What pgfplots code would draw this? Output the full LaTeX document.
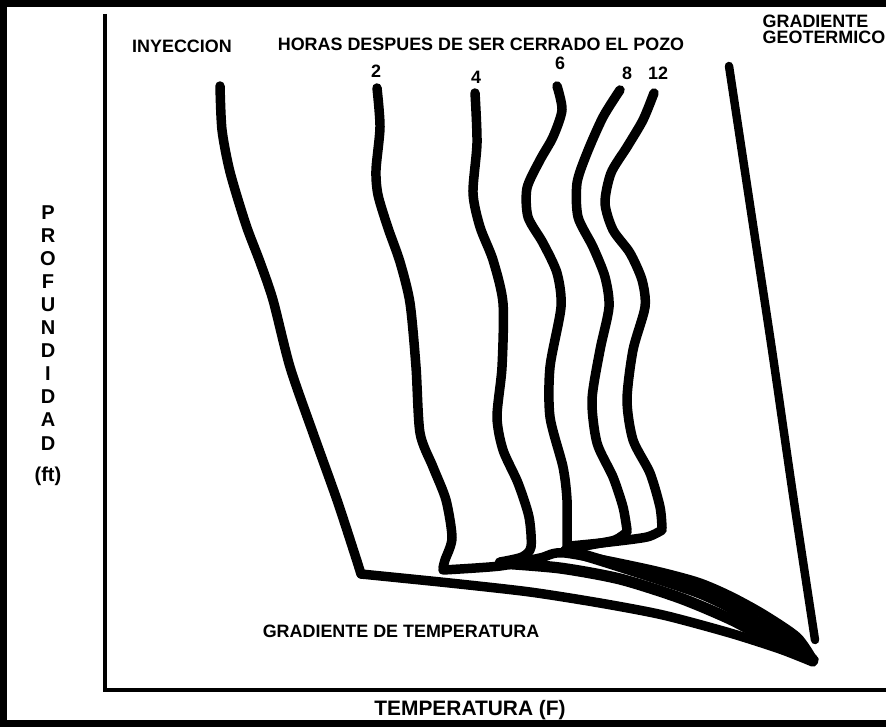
\documentclass[border=0pt]{standalone}
\usepackage{fontspec}
\setmainfont{Liberation Sans}
\usepackage{pgfplots}
\pgfplotsset{compat=1.18}

% 1 px of the scan = 0.1 mm
\tikzset{
  curve/.style={black, line width=2.7pt, smooth, tension=0.45, line cap=round, line join=round},
  lbl/.style={font=\fontsize{5.1}{5.1}\selectfont\bfseries, inner sep=0pt},
}

\begin{document}
\begin{tikzpicture}
\begin{axis}[
    width=8.86cm, height=7.27cm, scale only axis,
    xmin=0, xmax=886, ymin=0, ymax=727,
    y dir=reverse,
    hide axis,
    clip=true,
]
% frame of the scan
\addplot[black, line width=2pt] coordinates {(886,3.5) (3.5,3.5) (3.5,723.5) (886,723.5)};
% axes
\addplot[black, line width=0.9pt] coordinates {(105,14) (105,690) (886,690)};

% inyeccion
\addplot[curve] coordinates {
    (220,86) (222,130) (230,172) (246,225) (260,262) (273,300) (290,367)
    (313,433) (337,500) (355,555) (361,574)
};
\addplot[curve] coordinates {
    (361,574) (450,583) (530,592) (600,603) (663,615) (730,633) (780,649) (813,662)
};

% 2 horas
\addplot[curve] coordinates {
    (377,88) (380,127) (376,170) (378,195) (388,228) (400,262) (410,303)
    (416,367) (420,433) (433,467) (446,500) (452,538) (445,560) (443,568)
};
\addplot[curve] coordinates {
    (443,570) (500,566) (540,558) (565,553) (647,569) (697,582) (730,596)
    (763,614) (797,637) (813,660)
};

% 4 horas
\addplot[curve] coordinates {
    (475,93) (477,143) (473,193) (480,227) (493,260) (503,303) (502,367)
    (497,417) (503,450) (518,483) (529,517) (531,547) (522,557) (500,562)
};
\addplot[curve, line width=3.2pt] coordinates {
    (500,563) (560,568) (620,579) (680,598) (730,619) (770,640) (813,660)
};

% 6 horas
\addplot[curve] coordinates {
    (557,86) (562,110) (553,137) (540,160) (527,188) (528,217) (543,243)
    (557,273) (561,307) (550,367) (550,417) (563,467) (567,500) (567,540) (567,550)
};
\addplot[curve, line width=3.2pt] coordinates {
    (567,550) (600,560) (650,576) (700,593) (740,612) (780,636) (813,660)
};

% 8 horas
\addplot[curve] coordinates {
    (620,90) (603,117) (587,153) (577,183) (578,217) (593,247) (605,277)
    (609,307) (600,350) (592,400) (597,443) (613,477) (623,507) (627,530)
};
\addplot[curve] coordinates {
    (627,532) (615,540) (590,545) (565,550)
};

% 12 horas
\addplot[curve] coordinates {
    (654,93) (643,120) (627,147) (611,173) (605,203) (613,230) (630,253)
    (642,280) (645,307) (633,350) (627,400) (633,440) (650,473) (660,507) (662,528)
};
\addplot[curve] coordinates {
    (662,530) (647,537) (610,542) (570,546)
};

% gradiente geotermico
\addplot[curve, line width=2.4pt] coordinates {
    (729,66) (750,205) (772,350) (793,495) (815,640)
};

% labels
\node[lbl] at (axis cs:182,46) {INYECCION};
\node[lbl] at (axis cs:481,44) {HORAS DESPUES DE SER CERRADO EL POZO};
\node[lbl, anchor=west] at (axis cs:762,21) {GRADIENTE};
\node[lbl, anchor=west] at (axis cs:762,37) {GEOTERMICO};
\node[lbl] at (axis cs:376,71) {2};
\node[lbl] at (axis cs:476,77) {4};
\node[lbl] at (axis cs:560,63) {6};
\node[lbl] at (axis cs:627,73) {8};
\node[lbl] at (axis cs:658,73) {12};
\node[lbl] at (axis cs:401,631) {GRADIENTE DE TEMPERATURA};
\node[font=\fontsize{5.95}{6}\selectfont\bfseries, inner sep=0pt] at (axis cs:470,710) {TEMPERATURA (F)};
\node[font=\fontsize{5.7}{6.55}\selectfont\bfseries, align=center, inner sep=0pt] at (axis cs:48,346)
    {P\\R\\O\\F\\U\\N\\D\\I\\D\\A\\D\\[2.5pt](ft)};
\end{axis}
\end{tikzpicture}
\end{document}
